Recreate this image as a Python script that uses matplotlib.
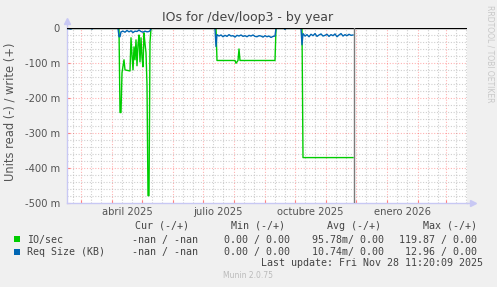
import numpy as np
import pandas as pd
import matplotlib
matplotlib.use('Agg')
import matplotlib.pyplot as plt
import matplotlib.dates as mdates
from matplotlib.patches import Rectangle

# ---- data (days counted from the left edge of the graph, values in milli-units) ----
start = pd.Timestamp('2025-02-15')
span_days = 400
now_day = 286.5

io_days = [0, 52, 53, 54, 55, 57, 58, 63, 64, 65, 66, 67, 68, 69, 70, 71, 72, 73,
           74, 75, 76, 77, 78, 79, 80, 81, 82, 83, 84,
           149, 150, 168, 169, 171, 172, 173, 208, 209, 235, 236, 286]
io_vals = [0, 0, -241, -241, -127, -90, -119, -122, -27, -76, -119, -53, -90, -33, -107, -47, -19, -96,
           -27, -84, -110, -13, -44, -70, -161, -479, -479, -40, 0,
           0, -92, -92, -100, -92, -59, -92, -92, 0, 0, -370, -370]

req_days = [0, 4, 5, 24, 25, 26, 51, 52, 53, 54, 56, 58, 60, 62, 64, 66, 68, 70, 72, 74, 76, 78, 80, 82, 83, 84,
            148, 149, 150, 152, 154, 156, 158, 160, 162, 164, 166, 168, 170, 172, 174, 176, 178, 180, 182,
            184, 186, 188, 190, 192, 194, 196, 198, 200, 202, 204, 206, 208, 209,
            217, 218, 219, 234, 235, 236, 238, 240, 242, 244, 246, 248, 250, 252, 254, 256, 258, 260, 262,
            264, 266, 268, 270, 272, 274, 276, 278, 280, 282, 284, 286]
req_vals = [0, -2, 0, 0, -2, 0, 0, -24, -24, -10, -8, -11, -6, -10, -7, -12, -8, -9, -5, -9, -11, -8, -10, -9, -7, 0,
            0, -52, -18, -22, -19, -24, -20, -23, -18, -22, -21, -25, -20, -22, -19, -23, -21, -24, -20,
            -22, -19, -23, -24, -21, -22, -25, -21, -24, -22, -26, -23, -22, 0,
            0, -3, 0, 0, -47, -15, -22, -18, -24, -17, -21, -15, -23, -19, -16, -22, -20, -17, -23,
            -18, -21, -16, -24, -19, -15, -22, -18, -21, -17, -20, -19]

month_labels = ['abril 2025', 'julio 2025', 'octubre 2025', 'enero 2026']
label_dates = ['2025-04-16', '2025-07-16', '2025-10-16', '2026-01-16']
yticks = [0, -100, -200, -300, -400, -500]

legend_header = ['Cur (-/+)', 'Min (-/+)', 'Avg (-/+)', 'Max (-/+)']
io_stats = ['-nan / -nan', '0.00 / 0.00', '95.78m/ 0.00', '119.87 / 0.00']
req_stats = ['-nan / -nan', '0.00 / 0.00', '10.74m/ 0.00', '12.96 / 0.00']

W, H = 497, 287
green = '#00CC00'
blue = '#0066B3'
axcol = '#C8C8F4'

def px(x, y):
    return x / W, 1 - y / H

fig = plt.figure(figsize=(W / 100, H / 100), dpi=100, facecolor='#F0F0F0')
ax = fig.add_axes([67 / W, 84 / H, 400 / W, 175 / H])
ax.set_facecolor('white')

t0 = start
t1 = start + pd.Timedelta(days=span_days)
ax.set_xlim(t0, t1)
ax.set_ylim(-500, 1)

# grid lines
dots = (0, (1, 1.5))
for d in pd.date_range(t0, t1, freq='D'):
    if d.day == 1:
        ax.axvline(d, color='#FF0000', alpha=0.3, lw=0.8, ls=dots, zorder=1)
    elif d.day in (11, 21):
        ax.axvline(d, color='#BBBBBB', alpha=0.7, lw=0.8, ls=dots, zorder=1)
for v in range(-480, 0, 20):
    if v % 100 == 0:
        ax.axhline(v, color='#FF0000', alpha=0.3, lw=0.8, ls=dots, zorder=1)
    else:
        ax.axhline(v, color='#BBBBBB', alpha=0.7, lw=0.8, ls=dots, zorder=1)

io_t = start + pd.to_timedelta(io_days, unit='D')
req_t = start + pd.to_timedelta(req_days, unit='D')
ax.plot(io_t, io_vals, color=green, lw=1.0, zorder=3)
ax.plot(req_t, req_vals, color=blue, lw=1.0, zorder=4)
ax.axhline(0, color='black', lw=1.0, zorder=5)
ax.axvline(start + pd.Timedelta(days=now_day), color='#7A7A7A', lw=1.0, zorder=5)

# axes styling
for s in ['top', 'right']:
    ax.spines[s].set_visible(False)
for s in ['left', 'bottom']:
    ax.spines[s].set_color(axcol)
    ax.spines[s].set_linewidth(1.0)

ax.set_yticks(yticks)
ax.set_yticklabels(['0' if v == 0 else f'{v} m' for v in yticks])
ax.set_xticks(pd.date_range('2025-03-01', t1, freq='MS'))
ax.set_xticklabels([])
ax.set_xticks(pd.to_datetime(label_dates), minor=True)
ax.set_xticklabels(month_labels, minor=True)
ax.tick_params(axis='x', which='major', direction='in', length=2, color='#FF8080')
ax.tick_params(axis='x', which='minor', length=0, labelsize=7.2, labelcolor='#555555', pad=3)
ax.tick_params(axis='y', direction='in', length=2, color='#FF8080', labelsize=7.2,
               labelcolor='#555555', pad=5)

# axis arrows
ax.plot([0, 0], [1, 1.035], color=axcol, lw=1.0, transform=ax.transAxes, clip_on=False)
ax.plot([0], [1.04], marker='^', ms=5, color=axcol, transform=ax.transAxes, clip_on=False)
ax.plot([1, 1.012], [0, 0], color=axcol, lw=1.0, transform=ax.transAxes, clip_on=False)
ax.plot([1.015], [0], marker='>', ms=5, color=axcol, transform=ax.transAxes, clip_on=False)

# titles
fig.text(*px(248, 18), 'IOs for /dev/loop3 - by year', ha='center', va='center',
         fontsize=9, color='#444444')
fig.text(*px(10, 112), 'Units read (-) / write (+)', ha='center', va='center',
         rotation=90, fontsize=8.3, color='#555555')
fig.text(*px(490, 54), 'RRDTOOL / TOBI OETIKER', ha='center', va='center',
         rotation=270, fontsize=5.5, color='#C8C8C8')

# legend
mono = dict(family='DejaVu Sans Mono', fontsize=7.2, color='#444444', va='center', ha='left')
for x, s in zip([135, 231, 327, 423], legend_header):
    fig.text(*px(x, 226), s, **mono)
fig.text(*px(27, 239.5), 'IO/sec', **mono)
fig.text(*px(27, 251.7), 'Req Size (KB)', **mono)
for x, s in zip([132, 224, 312, 399], io_stats):
    fig.text(*px(x, 239.5), s, **mono)
for x, s in zip([132, 224, 312, 405], req_stats):
    fig.text(*px(x, 251.7), s, **mono)
fig.text(*px(483, 263.5), 'Last update: Fri Nov 28 11:20:09 2025',
         **{**mono, 'ha': 'right'})
fig.text(*px(248, 276), 'Munin 2.0.75', ha='center', va='center', fontsize=5.5, color='#BBBBBB')

fig.patches.append(Rectangle(px(14, 242), 6 / W, 6 / H, transform=fig.transFigure,
                             facecolor=green, edgecolor='none'))
fig.patches.append(Rectangle(px(14, 254.5), 6 / W, 6 / H, transform=fig.transFigure,
                             facecolor=blue, edgecolor='none'))

fig.savefig('out.png', dpi=100, facecolor=fig.get_facecolor())
